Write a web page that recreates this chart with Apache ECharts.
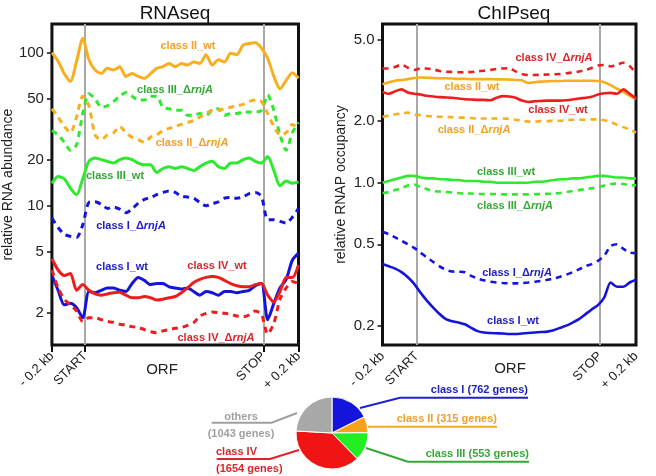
<!DOCTYPE html>
<html><head><meta charset="utf-8">
<script src="https://cdn.jsdelivr.net/npm/echarts@6/dist/echarts.min.js"></script>
<style>html,body{margin:0;padding:0;background:#fff}#c{width:656px;height:476px}</style>
</head><body><div id="c"></div>
<script>
// ---------- DATA ----------
const xPos = [0,2.5,5,7.5,10,12.5,15,17.5,20,22.5,25,27.5,30,32.5,35,37.5,40,42.5,45,47.5,50,52.5,55,57.5,60,62.5,65,67.5,70,72.5,75,77.5,80,82.5,85,87.5,90,92.5,95,97.5,100];
const START = 13.5, STOP = 85.8;
const xTickValues = [0, START, STOP, 100];
const xTickLabels = ['- 0.2 kb', 'START', 'STOP', '+ 0.2 kb'];
const rnaTicks = [2, 5, 10, 20, 50, 100];
const rnaTickLabels = ['2', '5', '10', '20', '50', '100'];
const chipTicks = [0.2, 0.5, 1.0, 2.0, 5.0];
const chipTickLabels = ['0.2', '0.5', '1.0', '2.0', '5.0'];

// RNAseq (relative RNA abundance)
const rna_II_wt  = [100,88,73,65,88,124,90,77,73,79,77,81,70,73,70,68,73,79,81,85,81,85,83,87,85,97,83,90,87,99,97,112,115,116,107,92,70,58,66,74,68];
const rna_III_d  = [31,29,26,23,25,40,54,50,44,45,48,52,55,52,49,49,52,52,44,43,42,42,39,39,40,39,42,43,39,40,40,41,41,41,42,53,42,29,23,30,35];
const rna_II_d   = [43,38,33,30,38,52,45,29,27,29,30,33,30,28,27,26,28,29,31,32,33,34,35,36,38,40,42,42,43,44,45,46,48,49,48,40,33,29,30,34,32];
const rna_III_wt = [14,15.5,15,13,11.8,15,19.5,20.5,20,19.5,19,20,20.5,20,19,18.5,18.5,16.5,17.5,18,17.5,18,17.5,17,18,19,19.5,18,17.5,19,19,20,20.5,19.5,19,21,17,13.5,14.5,14,14.3];
const rna_I_d    = [8.3,7.2,6.5,6.3,6.2,7.5,10.5,10.6,10.2,9.6,9.8,9.5,9.0,9.5,10.4,11.0,11.3,11.8,12.2,12.5,12.2,11.5,11.4,11.2,10.5,10.0,10.3,10.6,11.2,11.3,11.2,11.4,12.0,12.2,11.5,8.1,8.1,7.9,7.7,8.4,9.6];
const rna_I_wt   = [3.5,2.8,2.25,2.3,2.15,1.85,2.75,2.7,2.8,2.9,2.9,2.8,2.75,3.1,3.4,3.25,3.05,3.1,3.1,2.95,2.9,2.85,2.9,2.75,2.6,2.75,2.7,2.6,2.75,2.75,2.7,2.75,2.8,3.0,3.1,1.8,2.3,2.9,3.3,4.4,4.9];
const rna_IV_wt  = [4.5,3.8,3.5,3.6,2.8,3.05,2.8,2.65,2.6,2.65,2.7,2.72,2.6,2.5,2.5,2.55,2.5,2.42,2.45,2.5,2.55,2.7,2.9,3.15,3.3,3.4,3.45,3.4,3.25,3.1,3.0,2.95,2.95,3.05,3.1,2.6,2.35,2.75,3.4,3.4,4.1];
const rna_IV_d   = [3.8,2.9,2.45,2.25,2.05,1.75,1.85,1.85,1.8,1.75,1.73,1.68,1.66,1.62,1.6,1.55,1.5,1.48,1.52,1.55,1.58,1.6,1.65,1.72,1.9,1.98,2.02,2.0,1.98,1.95,1.9,1.88,1.93,2.05,1.95,1.45,1.7,2.45,2.9,3.2,3.1];

// ChIPseq (relative RNAP occupancy)
const chip_IV_d   = [3.62,3.62,3.68,3.78,3.65,3.56,3.62,3.62,3.58,3.52,3.49,3.48,3.47,3.47,3.48,3.5,3.53,3.56,3.6,3.62,3.63,3.5,3.4,3.36,3.36,3.37,3.38,3.39,3.4,3.43,3.46,3.5,3.56,3.64,3.74,3.76,3.7,3.78,3.86,3.72,3.42];
const chip_II_wt  = [3.03,3.1,3.15,3.18,3.21,3.25,3.27,3.26,3.25,3.24,3.24,3.23,3.22,3.22,3.21,3.21,3.21,3.21,3.2,3.2,3.19,3.18,3.17,3.07,3.1,3.12,3.13,3.14,3.14,3.15,3.15,3.15,3.15,3.15,3.14,3.1,3.0,2.88,2.78,2.66,2.57];
const chip_IV_wt  = [2.78,2.72,2.8,2.86,2.76,2.72,2.7,2.66,2.64,2.62,2.61,2.6,2.58,2.56,2.55,2.54,2.54,2.53,2.6,2.65,2.64,2.6,2.52,2.48,2.5,2.51,2.52,2.52,2.52,2.53,2.55,2.58,2.6,2.63,2.7,2.74,2.75,2.72,2.86,2.72,2.58];
const chip_II_d   = [2.1,2.13,2.16,2.18,2.2,2.15,2.14,2.12,2.11,2.1,2.1,2.09,2.08,2.08,2.07,2.06,2.06,2.06,2.06,2.06,2.05,2.03,2.01,1.99,1.99,2.0,2.0,2.01,2.01,2.02,2.03,2.03,2.03,2.04,2.04,2.02,1.98,1.92,1.87,1.82,1.76];
const chip_III_wt = [1.0,1.02,1.04,1.06,1.08,1.08,1.06,1.05,1.05,1.04,1.04,1.03,1.03,1.02,1.02,1.02,1.01,1.01,1.0,1.0,1.0,1.0,1.0,1.0,1.01,1.01,1.02,1.03,1.04,1.04,1.05,1.05,1.06,1.07,1.08,1.08,1.07,1.06,1.06,1.05,1.05];
const chip_III_d  = [0.89,0.9,0.92,0.94,0.97,0.98,0.95,0.93,0.91,0.905,0.9,0.895,0.89,0.885,0.885,0.88,0.88,0.88,0.88,0.877,0.877,0.877,0.877,0.877,0.878,0.88,0.882,0.885,0.89,0.9,0.91,0.92,0.93,0.94,0.95,0.97,0.985,0.99,0.985,0.975,0.97];
const chip_I_d    = [0.575,0.56,0.54,0.52,0.5,0.48,0.455,0.43,0.41,0.39,0.375,0.368,0.367,0.365,0.35,0.34,0.333,0.328,0.325,0.323,0.322,0.322,0.323,0.325,0.328,0.331,0.335,0.34,0.347,0.355,0.365,0.377,0.39,0.4,0.415,0.44,0.49,0.5,0.475,0.455,0.452];
const chip_I_wt   = [0.4,0.39,0.38,0.365,0.345,0.32,0.29,0.265,0.245,0.228,0.215,0.21,0.207,0.203,0.195,0.188,0.185,0.184,0.1835,0.183,0.182,0.182,0.183,0.184,0.185,0.186,0.187,0.19,0.195,0.2,0.207,0.215,0.227,0.24,0.252,0.275,0.325,0.31,0.31,0.325,0.335];

// Pie: genes per class
const pieNames = ['class I', 'class II', 'class III', 'class IV', 'others'];
const pieGenes = [762, 315, 553, 1654, 1043];

// ---------- STYLE ----------
const FONT = '"Liberation Sans", Arial, Helvetica, sans-serif';
const C = {
  orange: '#F8AE1E', green: '#2EEA2E', blue: '#1414DC', red: '#EE1C1C', gray: '#A8A8A8',
  orangeT: '#F0A02C', greenT: '#35A835', blueT: '#2020C4', redT: '#D8262A', grayT: '#A0A0A0'
};

const rnaSeriesDef = [
  {d: rna_II_wt, c: C.orange, dash: false},
  {d: rna_III_d, c: C.green, dash: true},
  {d: rna_II_d, c: C.orange, dash: true},
  {d: rna_III_wt, c: C.green, dash: false},
  {d: rna_I_d, c: C.blue, dash: true},
  {d: rna_I_wt, c: C.blue, dash: false},
  {d: rna_IV_d, c: C.red, dash: true},
  {d: rna_IV_wt, c: C.red, dash: false}
];
const chipSeriesDef = [
  {d: chip_IV_d, c: C.red, dash: true},
  {d: chip_II_wt, c: C.orange, dash: false},
  {d: chip_IV_wt, c: C.red, dash: false},
  {d: chip_II_d, c: C.orange, dash: true},
  {d: chip_III_wt, c: C.green, dash: false},
  {d: chip_III_d, c: C.green, dash: true},
  {d: chip_I_d, c: C.blue, dash: true},
  {d: chip_I_wt, c: C.blue, dash: false}
];

function pairs(vals) { return vals.map((v, i) => [xPos[i], Math.log10(v)]); }
function nearestLabel(v, ticks, labels) {
  let best = 0, bd = Infinity;
  ticks.forEach((t, i) => { const d = Math.abs(Math.log10(t) - v); if (d < bd) { bd = d; best = i; } });
  return labels[best];
}
function xLabel(v) {
  let best = 0, bd = Infinity;
  xTickValues.forEach((t, i) => { const d = Math.abs(t - v); if (d < bd) { bd = d; best = i; } });
  return xTickLabels[best];
}

function makeSeries(defs, idx) {
  const out = defs.map(s => ({
    type: 'line', xAxisIndex: idx, yAxisIndex: idx, data: pairs(s.d),
    showSymbol: false, symbol: 'none', smooth: 0.25, z: 3, silent: true,
    lineStyle: {color: s.c, width: idx === 0 ? 3 : 2.6, type: s.dash ? [6, 5] : 'solid', cap: 'butt'}
  }));
  out.push({
    type: 'line', xAxisIndex: idx, yAxisIndex: idx, data: [], z: 1, silent: true,
    markLine: {silent: true, symbol: 'none', z: 1, label: {show: false},
      lineStyle: {color: '#A9A9A9', width: 2, type: 'solid'},
      data: [{xAxis: START}, {xAxis: STOP}]}
  });
  return out;
}

const gridBase = {top: 24, height: 321, width: 253.5, show: true, borderColor: '#111', borderWidth: 3, backgroundColor: '#fff', containLabel: false};

function xAxisDef(idx) {
  return {
    type: 'value', gridIndex: idx, min: 0, max: 100,
    axisLine: {show: false}, splitLine: {show: false},
    axisTick: {show: true, inside: false, length: 7, lineStyle: {color: '#111', width: 2}, customValues: xTickValues},
    axisLabel: {show: true, rotate: 45, margin: 9, fontFamily: FONT, fontSize: 13, color: '#222',
      customValues: xTickValues, formatter: v => xLabel(v)}
  };
}
function yAxisDef(idx, ticks, labels, min, max, name, gap) {
  const tv = ticks.map(t => Math.log10(t));
  return {
    type: 'value', gridIndex: idx, min: min, max: max,
    name: name, nameLocation: 'middle', nameGap: gap,
    nameTextStyle: {fontFamily: FONT, fontSize: 14, color: '#222'},
    axisLine: {show: false}, splitLine: {show: false},
    axisTick: {show: true, inside: false, length: 5, lineStyle: {color: '#111', width: 1.5}, customValues: tv},
    axisLabel: {show: true, margin: 8, fontFamily: FONT, fontSize: 15, color: '#222',
      customValues: tv, formatter: v => nearestLabel(v, ticks, labels)}
  };
}

// curve labels (text, colour, centre position)
const curveLabels = [
  ['class II_wt', C.orangeT, 188, 46], ['class III_Δ{i|rnjA}', C.greenT, 175, 90],
  ['class II_Δ{i|rnjA}', C.orangeT, 192, 143], ['class III_wt', C.greenT, 115, 176],
  ['class I_Δ{i|rnjA}', C.blueT, 131, 226], ['class I_wt', C.blueT, 122, 267],
  ['class IV_wt', C.redT, 217, 266], ['class IV_Δ{i|rnjA}', C.redT, 216, 338],
  ['class IV_Δ{i|rnjA}', C.redT, 554, 58], ['class II_wt', C.orangeT, 472, 87],
  ['class IV_wt', C.redT, 558, 110], ['class II_Δ{i|rnjA}', C.orangeT, 474, 130],
  ['class III_wt', C.greenT, 506, 172], ['class III_Δ{i|rnjA}', C.greenT, 515, 206],
  ['class I_Δ{i|rnjA}', C.blueT, 517, 273], ['class I_wt', C.blueT, 513, 321]
];
const graphics = curveLabels.map(l => ({
  type: 'text', x: l[2], y: l[3], z: 10, silent: true,
  style: {text: l[0], fill: l[1], fontFamily: FONT, fontSize: 11, fontWeight: 'bold', align: 'center', verticalAlign: 'middle',
    rich: {i: {fill: l[1], fontFamily: FONT, fontSize: 11, fontWeight: 'bold', fontStyle: 'italic'}}}
}));
graphics.push({type: 'text', x: 175, y: 14, style: {text: 'RNAseq', fill: '#111', fontFamily: FONT, fontSize: 19, align: 'center', verticalAlign: 'middle'}});
graphics.push({type: 'text', x: 514, y: 14, style: {text: 'ChIPseq', fill: '#111', fontFamily: FONT, fontSize: 19, align: 'center', verticalAlign: 'middle'}});
graphics.push({type: 'text', x: 162, y: 370, style: {text: 'ORF', fill: '#222', fontFamily: FONT, fontSize: 15, align: 'center', verticalAlign: 'middle'}});
graphics.push({type: 'text', x: 510, y: 369, style: {text: 'ORF', fill: '#222', fontFamily: FONT, fontSize: 15, align: 'center', verticalAlign: 'middle'}});

// pie label layout (positions only)
const pieLabelLayout = [
  {x: 528, y: 390, align: 'right', line: [[360, 408], [400, 397.7], [528, 397.7]]},
  {x: 497, y: 419, align: 'right', line: [[368, 426.7], [420, 426.7], [497, 426.7]]},
  {x: 529, y: 454, align: 'right', line: [[366, 448], [408, 461.7], [529, 461.7]]},
  {x: 216, y: 460, align: 'left', line: [[299, 450], [270, 459], [216.7, 459]]},
  {x: 241, y: 425, align: 'center', line: [[297, 413], [271.7, 422.7], [211.7, 422.7]]}
];
const pieColors = [C.blue, '#F7A21B', '#22EE22', '#F01414', C.gray];
const pieTextColors = [C.blueT, C.orangeT, C.greenT, C.redT, C.grayT];
const pieLineColors = ['#2020D0', '#F5A623', '#35A835', '#D8262A', '#A0A0A0'];

const option = {
  animation: false,
  grid: [Object.assign({left: 45}, gridBase), Object.assign({left: 382.5}, gridBase)],
  xAxis: [xAxisDef(0), xAxisDef(1)],
  yAxis: [
    yAxisDef(0, rnaTicks, rnaTickLabels, 0.0895, 2.1876, 'relative RNA abundance', 27),
    yAxisDef(1, chipTicks, chipTickLabels, -0.7937, 0.776, 'relative RNAP occupancy', 34)
  ],
  series: makeSeries(rnaSeriesDef, 0).concat(makeSeries(chipSeriesDef, 1)).concat([{
    type: 'pie', center: [332, 433], radius: 36, startAngle: 90, clockwise: true, silent: true, z: 5,
    itemStyle: {borderColor: '#fff', borderWidth: 1},
    data: pieNames.map((n, i) => ({
      name: n, value: pieGenes[i],
      itemStyle: {color: pieColors[i]},
      label: {color: pieTextColors[i]},
      labelLine: {lineStyle: {color: pieLineColors[i]}}
    })),
    label: {show: true, position: 'outside', fontFamily: FONT, fontSize: 11, fontWeight: 'bold', lineHeight: 17,
      formatter: p => (p.dataIndex >= 3 ? p.name + '\n(' + p.value + ' genes)' : p.name + ' (' + p.value + ' genes)')},
    labelLine: {show: true, length: 10, length2: 10, lineStyle: {width: 2}},
    labelLayout: function (params) {
      const L = pieLabelLayout[params.dataIndex];
      return {x: L.x, y: L.y, align: L.align, verticalAlign: 'middle', labelLinePoints: L.line};
    }
  }]),
  graphic: graphics
};

const chart = echarts.init(document.getElementById('c'), null, {renderer: 'canvas'});
chart.setOption(option);
</script>
</body></html>
